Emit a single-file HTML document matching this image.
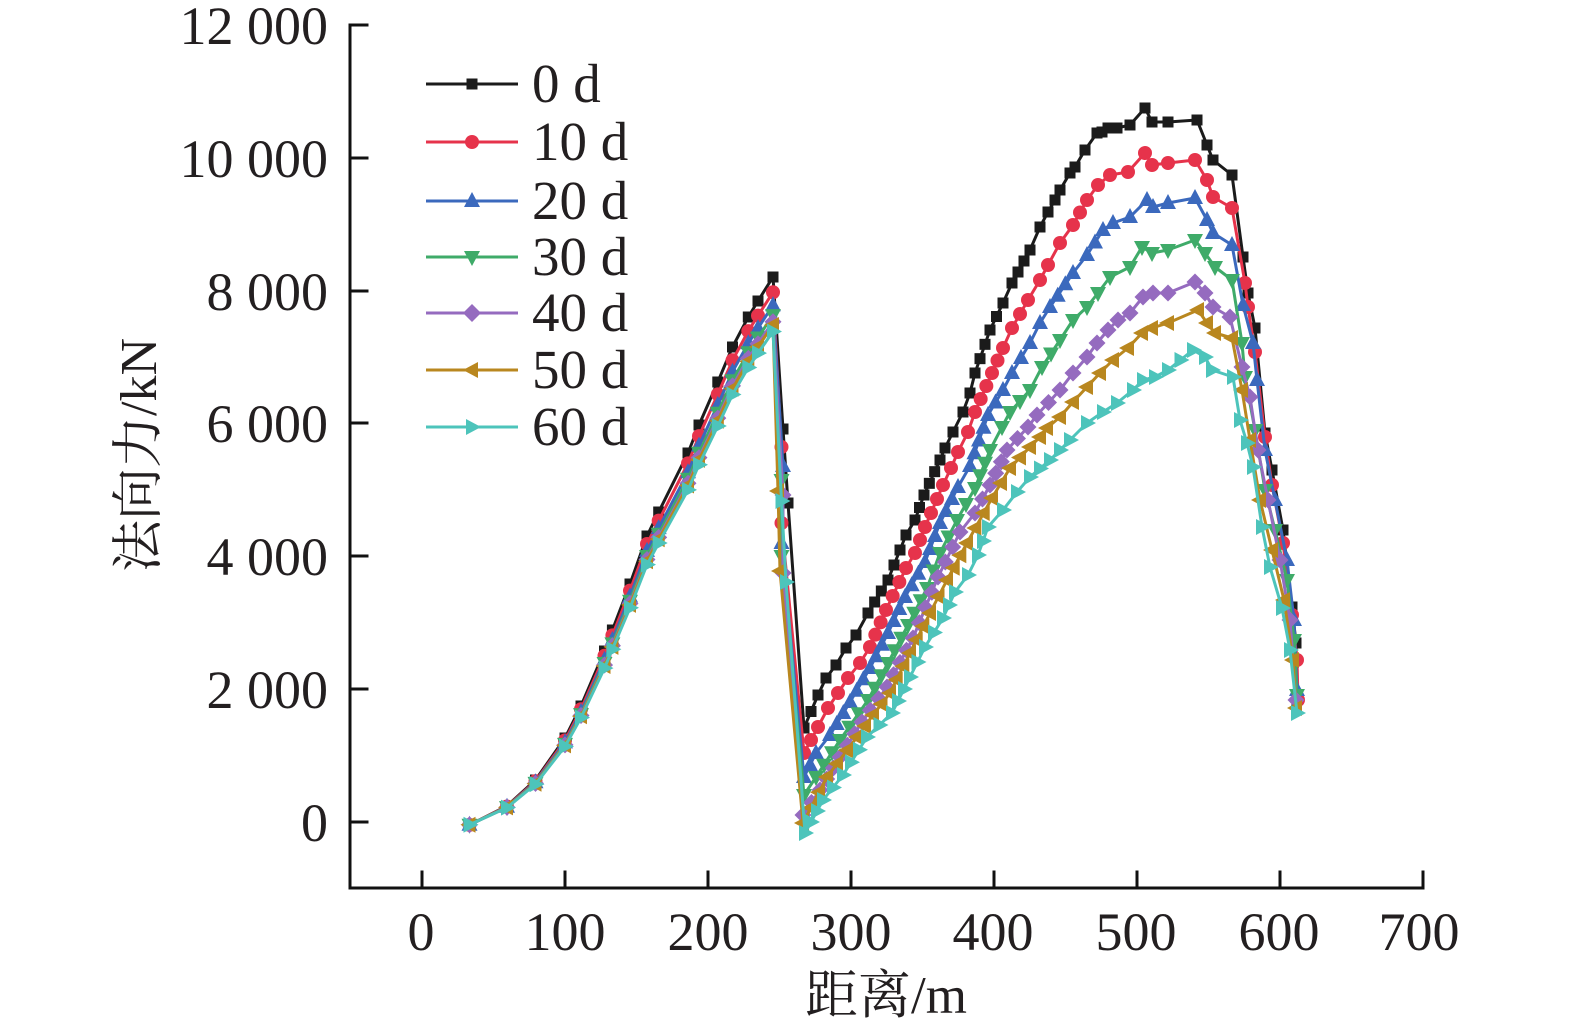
<!DOCTYPE html>
<html>
<head>
<meta charset="utf-8">
<style>
html,body{margin:0;padding:0;background:#fff;}
svg{display:block;}
text{font-family:"Liberation Serif","Noto Serif CJK SC",serif;fill:#231f20;}
</style>
</head>
<body>
<svg id="c" width="1575" height="1033" viewBox="0 0 1575 1033" xmlns="http://www.w3.org/2000/svg">
<rect width="1575" height="1033" fill="#fff"/>
<!-- axes -->
<g stroke="#111" stroke-width="3" fill="none" stroke-linecap="square">
<path d="M350 25 V888 H1423"/>
<path d="M350 25 H367 M350 158 H367 M350 291 H367 M350 423 H367 M350 556 H367 M350 689 H367 M350 822 H367"/>
<path d="M422 888 V872 M565 888 V872 M708 888 V872 M851 888 V872 M994 888 V872 M1137 888 V872 M1280 888 V872 M1423 888 V872"/>
</g>
<!-- y tick labels -->
<g font-size="54" text-anchor="end">
<text x="328" y="44">12 000</text>
<text x="328" y="177">10 000</text>
<text x="328" y="310">8 000</text>
<text x="328" y="442">6 000</text>
<text x="328" y="575">4 000</text>
<text x="328" y="708">2 000</text>
<text x="328" y="841">0</text>
</g>
<!-- x tick labels -->
<g font-size="54" text-anchor="middle">
<text x="421" y="950">0</text>
<text x="565" y="950">100</text>
<text x="708" y="950">200</text>
<text x="851" y="950">300</text>
<text x="993" y="950">400</text>
<text x="1136" y="950">500</text>
<text x="1279" y="950">600</text>
<text x="1419" y="950">700</text>
</g>
<!-- axis titles -->
<text x="886" y="1013" font-size="53" text-anchor="middle">距离/m</text>
<text transform="translate(156,455) rotate(-90)" font-size="52" text-anchor="middle">法向力/kN</text>

<g id="series"></g>

<!-- legend -->
<g stroke-width="3" fill="none">
<line x1="426" y1="84" x2="518" y2="84" stroke="#1b1b1b"/>
<line x1="426" y1="142" x2="518" y2="142" stroke="#e6334b"/>
<line x1="426" y1="201" x2="518" y2="201" stroke="#3b69bd"/>
<line x1="426" y1="257" x2="518" y2="257" stroke="#3fab69"/>
<line x1="426" y1="313" x2="518" y2="313" stroke="#956bbf"/>
<line x1="426" y1="370" x2="518" y2="370" stroke="#b9871f"/>
<line x1="426" y1="427" x2="518" y2="427" stroke="#4dc4bb"/>
</g>
<rect x="466.5" y="78.5" width="11" height="11" fill="#1b1b1b"/>
<circle cx="472" cy="142" r="7" fill="#e6334b"/>
<polygon points="472,192 480,207 464,207" fill="#3b69bd"/>
<polygon points="472,266 480,251 464,251" fill="#3fab69"/>
<polygon points="472,304 481,313 472,322 463,313" fill="#956bbf"/>
<polygon points="463,370 478,362 478,378" fill="#b9871f"/>
<polygon points="481,427 466,419 466,435" fill="#4dc4bb"/>
<g font-size="55">
<text x="532" y="102">0 d</text>
<text x="532" y="160">10 d</text>
<text x="532" y="219">20 d</text>
<text x="532" y="275">30 d</text>
<text x="532" y="331">40 d</text>
<text x="532" y="388">50 d</text>
<text x="532" y="445">60 d</text>
</g>
</svg>
<script>
(function(){
const NS='http://www.w3.org/2000/svg';
const g=document.getElementById('series');
const sec1=[[469.5,825],[507,806],[535.5,780],[565,738],[581,706],[604.5,651],[612.4,630],[630,584],[647,536],[658.7,512],[688,453],[699,425],[717.8,382],[732.5,347],[748.3,317],[758,301],[773,277]];
const series=[
{c:'#1b1b1b',m:'sq',k:1,drop:[[783,429],[788,503]],bot:[804,728],p2:[[818,695],[826,678],[836,665],[846,648],[856,635],[868,613],[888,580],[906,535],[915,520],[924,495],[940,460],[945,448],[953,432],[963,412],[970,393],[975,373],[990,330],[1003,303],[1012,283],[1030,250],[1040,227],[1048,212],[1055,200],[1060,190],[1070,173],[1075,167],[1085,150],[1097,133],[1102,132],[1108,128],[1117,128],[1130,125],[1145,108],[1152,122],[1168,122],[1197,120],[1207,145],[1213,160],[1232,175],[1243,257],[1248,293],[1255,328],[1265,433],[1272,470],[1283,530],[1292,607],[1296,643],[1297,700]]},
{c:'#e6334b',m:'ci',k:0.972,drop:[[781.5,447],[781.5,523]],bot:[804,753],p2:[[818,727],[828,708],[838,693],[848,678],[860,663],[870,647],[886,610],[906,568],[915,553],[925,527],[943,485],[951,468],[958,452],[968,432],[975,412],[992,373],[1003,348],[1012,328],[1028,300],[1040,280],[1048,265],[1060,243],[1073,225],[1087,200],[1098,185],[1110,175],[1128,172],[1145,153],[1152,165],[1168,163],[1195,160],[1207,180],[1213,197],[1232,208],[1245,283],[1248,307],[1255,352],[1265,437],[1272,485],[1283,543],[1292,615],[1297,660],[1298,700]]},
{c:'#3b69bd',m:'tu',k:0.948,drop:[[783,466],[781.5,543]],bot:[804,777],p2:[[816,753],[830,735],[850,702],[870,668],[888,633],[905,597],[925,562],[940,523],[958,487],[970,466],[988,415],[1003,390],[1012,373],[1030,343],[1040,323],[1050,307],[1073,273],[1087,255],[1103,230],[1113,223],[1130,217],[1147,200],[1153,207],[1168,203],[1195,198],[1207,220],[1213,233],[1232,245],[1243,305],[1253,343],[1257,380],[1265,450],[1275,500],[1287,560],[1294,620],[1297,690]]},
{c:'#3fab69',m:'td',k:0.93,drop:[[781.5,480],[781.5,556]],bot:[804,795],p2:[[816,777],[840,740],[868,700],[888,663],[908,625],[927,588],[940,553],[957,520],[975,488],[990,450],[1002,427],[1010,412],[1030,390],[1042,367],[1060,340],[1073,320],[1087,307],[1098,293],[1110,277],[1130,267],[1142,247],[1152,253],[1168,250],[1195,240],[1205,253],[1215,267],[1232,280],[1242,343],[1245,377],[1255,430],[1265,490],[1275,530],[1287,580],[1294,640],[1297,695]]},
{c:'#956bbf',m:'di',k:0.918,drop:[[783,495],[783,573]],bot:[803,815],p2:[[820,790],[840,757],[862,722],[887,687],[913,638],[938,577],[960,532],[975,513],[990,485],[1007,450],[1028,427],[1037,415],[1060,390],[1073,373],[1087,357],[1097,343],[1108,330],[1118,320],[1130,313],[1143,297],[1153,293],[1168,293],[1195,282],[1205,293],[1213,307],[1230,317],[1242,367],[1250,397],[1258,450],[1268,500],[1280,560],[1290,620],[1296,700]]},
{c:'#b9871f',m:'tl',k:0.912,drop:[[778,491],[780,571]],bot:[803,823],p2:[[827,777],[857,737],[873,715],[890,693],[910,653],[930,613],[947,580],[967,543],[992,498],[1010,468],[1030,447],[1040,437],[1047,428],[1060,417],[1073,402],[1087,387],[1100,373],[1113,360],[1128,348],[1142,333],[1152,328],[1168,323],[1198,310],[1207,323],[1215,333],[1232,338],[1242,390],[1250,440],[1260,500],[1272,550],[1284,600],[1293,660],[1296,708]]},
{c:'#4dc4bb',m:'tr',k:0.9,drop:[[781.5,501],[786,582]],bot:[805,833],p2:[[823,800],[843,775],[867,737],[892,713],[910,677],[925,647],[943,618],[955,592],[968,575],[978,555],[988,527],[1003,510],[1017,492],[1030,477],[1050,460],[1070,440],[1087,423],[1103,412],[1117,403],[1133,390],[1143,380],[1155,377],[1168,370],[1193,350],[1205,357],[1212,370],[1233,377],[1240,420],[1247,443],[1253,467],[1262,527],[1270,567],[1282,608],[1290,650],[1297,713]]}
];
function el(n,a){const e=document.createElementNS(NS,n);for(const k in a)e.setAttribute(k,a[k]);return e;}
function marker(t,x,y,c){
  const f=(arr)=>arr.map(p=>(x+p[0]).toFixed(1)+','+(y+p[1]).toFixed(1)).join(' ');
  switch(t){
    case 'sq':return el('rect',{x:x-5.5,y:y-5.5,width:11,height:11,fill:c});
    case 'ci':return el('circle',{cx:x,cy:y,r:7,fill:c});
    case 'tu':return el('polygon',{points:f([[0,-9],[8,6],[-8,6]]),fill:c});
    case 'td':return el('polygon',{points:f([[0,9],[8,-6],[-8,-6]]),fill:c});
    case 'di':return el('polygon',{points:f([[0,-8.5],[8.5,0],[0,8.5],[-8.5,0]]),fill:c});
    case 'tl':return el('polygon',{points:f([[-9,0],[6,-8],[6,8]]),fill:c});
    case 'tr':return el('polygon',{points:f([[9,0],[-6,-8],[-6,8]]),fill:c});
  }
}
series.forEach(s=>{
  const pts=[],mp=[];
  sec1.forEach(p=>{const q=[p[0],822-(822-p[1])*s.k];pts.push(q);mp.push(q);});
  s.drop.forEach(p=>{pts.push(p);mp.push(p);});
  pts.push(s.bot);mp.push(s.bot);
  let prev=s.bot;
  s.p2.forEach(p=>{
    const dx=p[0]-prev[0],dy=p[1]-prev[1],L=Math.hypot(dx,dy);
    if(p[0]<1195&&L>26){const n=Math.round(L/15);for(let i=1;i<n;i++)mp.push([prev[0]+dx*i/n,prev[1]+dy*i/n]);}
    pts.push(p);mp.push(p);prev=p;
  });
  const grp=el('g',{});
  grp.appendChild(el('polyline',{points:pts.map(p=>p[0].toFixed(1)+','+p[1].toFixed(1)).join(' '),fill:'none',stroke:s.c,'stroke-width':3,'stroke-linejoin':'round'}));
  mp.forEach(p=>grp.appendChild(marker(s.m,p[0],p[1],s.c)));
  g.appendChild(grp);
});
})();
</script>
</body>
</html>
